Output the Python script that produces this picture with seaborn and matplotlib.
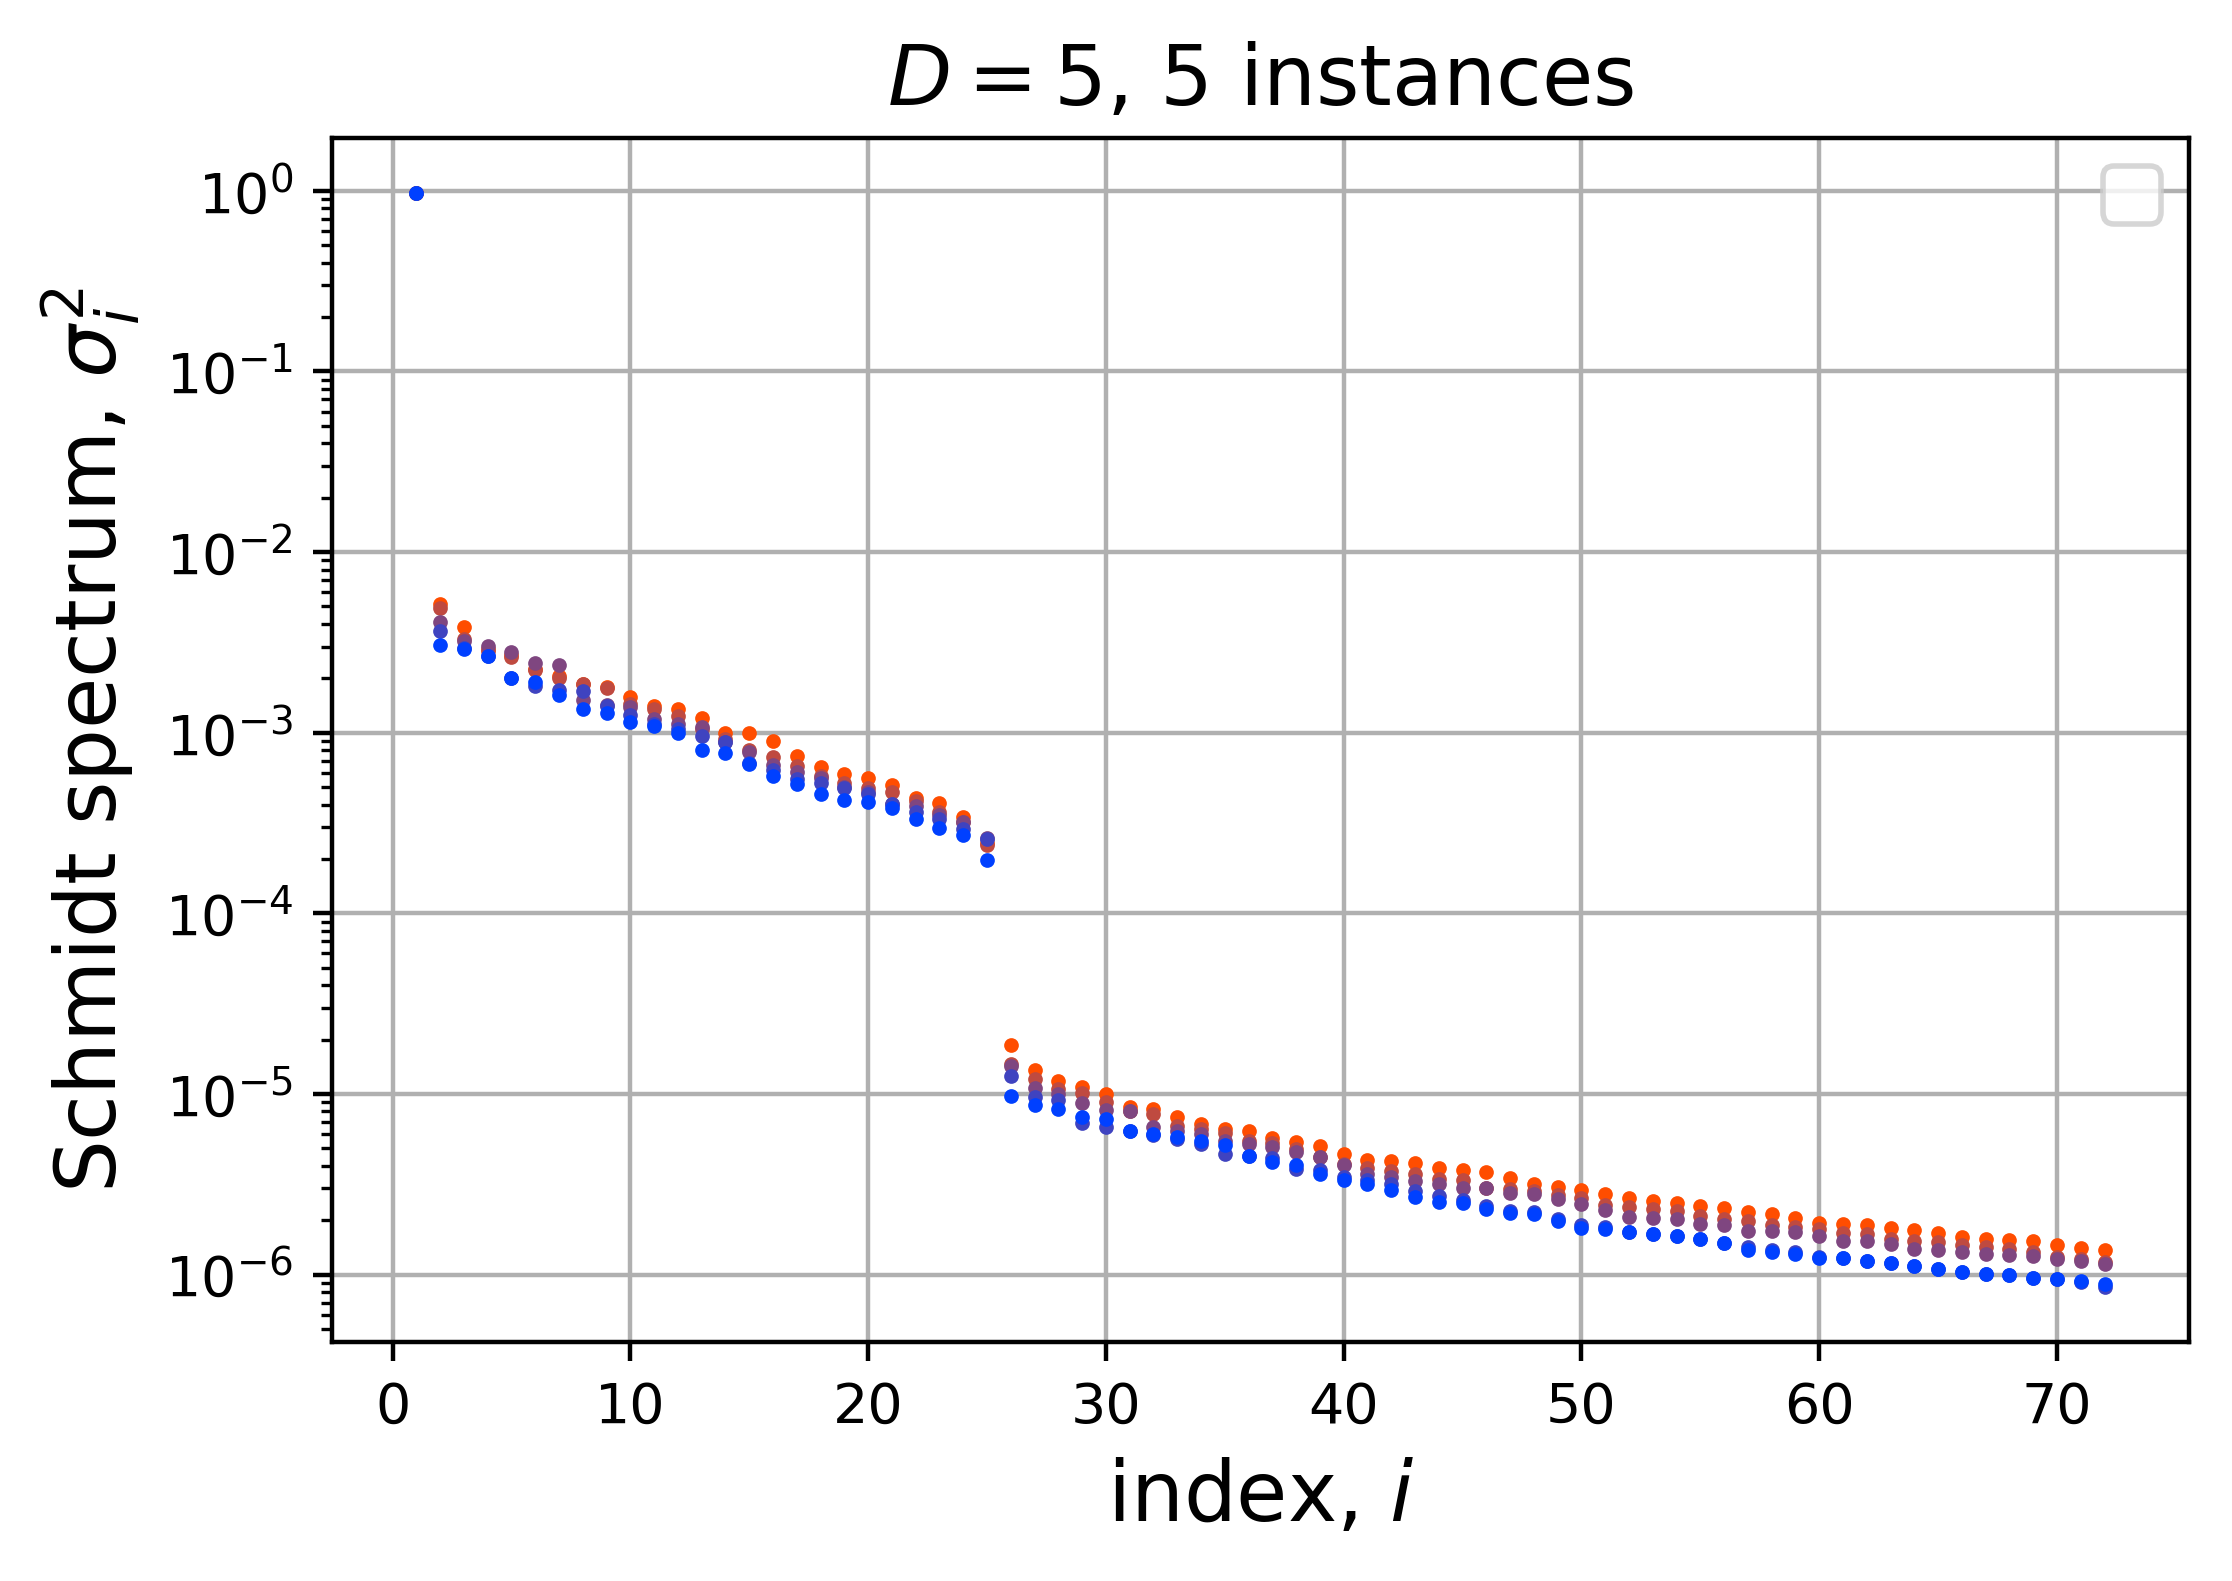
import numpy as np
import matplotlib
matplotlib.use("Agg")
import matplotlib.pyplot as plt
import seaborn as sns

# Schmidt spectra of the 5 instances, index 1..72
index = list(range(1, 73))

head = [0.968, 0.970, 0.972, 0.975, 0.976]  # sigma_1^2 per instance

# indices 2..25 (x1e-3)
block1_orange = [5.14, 3.86, 2.90, 2.70, 2.25, 2.05, 1.86, 1.80, 1.58, 1.41, 1.35, 1.20,
                 1.00, 1.00, 0.895, 0.74, 0.649, 0.591, 0.56, 0.514, 0.434, 0.408, 0.34, 0.245]
block1_brown = [4.90, 3.29, 2.84, 2.61, 2.23, 2.02, 1.86, 1.76, 1.45, 1.36, 1.23, 1.05,
                0.92, 0.80, 0.73, 0.657, 0.578, 0.527, 0.493, 0.472, 0.42, 0.363, 0.32, 0.24]
block1_purple = [4.10, 3.22, 3.03, 2.80, 2.43, 2.36, 1.52, 1.42, 1.38, 1.19, 1.12, 1.07,
                 0.885, 0.78, 0.665, 0.604, 0.562, 0.50, 0.47, 0.402, 0.395, 0.35, 0.32, 0.261]
block1_indigo = [3.66, 2.96, 2.66, 2.00, 1.82, 1.73, 1.71, 1.40, 1.25, 1.12, 1.05, 0.963,
                 0.885, 0.68, 0.62, 0.555, 0.527, 0.493, 0.458, 0.402, 0.363, 0.334, 0.294, 0.258]
block1_blue = [3.05, 2.90, 2.66, 2.00, 1.90, 1.61, 1.35, 1.28, 1.15, 1.09, 1.00, 0.80,
               0.77, 0.67, 0.578, 0.52, 0.458, 0.425, 0.416, 0.382, 0.334, 0.296, 0.27, 0.198]

# indices 26..48 (x1e-5)
block2_orange = [1.87, 1.36, 1.185, 1.09, 1.00, 0.851, 0.826, 0.75, 0.683, 0.641, 0.627, 0.572,
                 0.541, 0.512, 0.466, 0.432, 0.425, 0.414, 0.39, 0.377, 0.369, 0.342, 0.318]
block2_brown = [1.46, 1.21, 1.065, 1.01, 0.90, 0.802, 0.775, 0.668, 0.641, 0.607, 0.552, 0.534,
                0.497, 0.447, 0.41, 0.39, 0.374, 0.361, 0.339, 0.332, 0.303, 0.299, 0.292]
block2_purple = [1.43, 1.08, 1.00, 0.888, 0.816, 0.80, 0.654, 0.627, 0.601, 0.552, 0.53, 0.507,
                 0.476, 0.445, 0.402, 0.361, 0.349, 0.329, 0.318, 0.303, 0.30, 0.283, 0.281]
block2_indigo = [1.26, 0.96, 0.93, 0.689, 0.654, 0.627, 0.589, 0.564, 0.53, 0.466, 0.455, 0.44,
                 0.385, 0.38, 0.346, 0.332, 0.318, 0.292, 0.274, 0.258, 0.239, 0.225, 0.222]
block2_blue = [0.98, 0.873, 0.826, 0.75, 0.728, 0.627, 0.60, 0.575, 0.552, 0.519, 0.451, 0.419,
               0.402, 0.361, 0.335, 0.318, 0.295, 0.269, 0.252, 0.249, 0.232, 0.22, 0.216]

# indices 49..72 (x1e-6)
block3_orange = [3.04, 2.94, 2.81, 2.67, 2.56, 2.48, 2.41, 2.35, 2.21, 2.16, 2.07, 1.92,
                 1.90, 1.89, 1.81, 1.77, 1.69, 1.62, 1.57, 1.55, 1.53, 1.46, 1.40, 1.36]
block3_brown = [2.77, 2.67, 2.44, 2.38, 2.31, 2.26, 2.12, 2.02, 1.99, 1.87, 1.83, 1.79,
                1.70, 1.68, 1.57, 1.54, 1.51, 1.45, 1.42, 1.39, 1.33, 1.25, 1.22, 1.17]
block3_purple = [2.62, 2.46, 2.28, 2.09, 2.07, 2.03, 1.90, 1.87, 1.75, 1.75, 1.71, 1.64,
                 1.54, 1.54, 1.48, 1.39, 1.36, 1.33, 1.30, 1.29, 1.27, 1.22, 1.19, 1.15]
block3_indigo = [2.03, 1.89, 1.83, 1.73, 1.68, 1.64, 1.57, 1.49, 1.42, 1.36, 1.33, 1.25,
                 1.24, 1.19, 1.16, 1.12, 1.07, 1.03, 1.01, 0.99, 0.96, 0.946, 0.907, 0.851]
block3_blue = [1.99, 1.81, 1.79, 1.73, 1.68, 1.64, 1.57, 1.49, 1.37, 1.33, 1.30, 1.24,
               1.23, 1.19, 1.16, 1.12, 1.07, 1.03, 1.01, 0.99, 0.96, 0.946, 0.927, 0.888]


def build(h, b1, b2, b3):
    return ([h] + [v * 1e-3 for v in b1] + [v * 1e-5 for v in b2]
            + [v * 1e-6 for v in b3])


spectra = [
    build(head[0], block1_orange, block2_orange, block3_orange),
    build(head[1], block1_brown, block2_brown, block3_brown),
    build(head[2], block1_purple, block2_purple, block3_purple),
    build(head[3], block1_indigo, block2_indigo, block3_indigo),
    build(head[4], block1_blue, block2_blue, block3_blue),
]
colors = sns.blend_palette(["#FF4D00", "#0040FF"], 5)

fig = plt.figure(figsize=(5.58, 3.9525), dpi=400)
ax = fig.add_axes([0.1487, 0.1512, 0.8320, 0.7615])

for vals, c in zip(spectra, colors):
    sns.scatterplot(x=index, y=vals, color=c, s=7, linewidth=0, ax=ax)

ax.set_yscale("log")
ax.grid(True)
ax.set_axisbelow(True)
ax.set_xlabel("index, $i$", fontsize=15)
ax.set_ylabel("Schmidt spectrum, $\\sigma_i^2$", fontsize=15)
ax.set_title("$D=5$, 5 instances", fontsize=15)
ax.tick_params(labelsize=10)
ax.legend(borderpad=0.52)

fig.savefig("out.png", dpi=400)
